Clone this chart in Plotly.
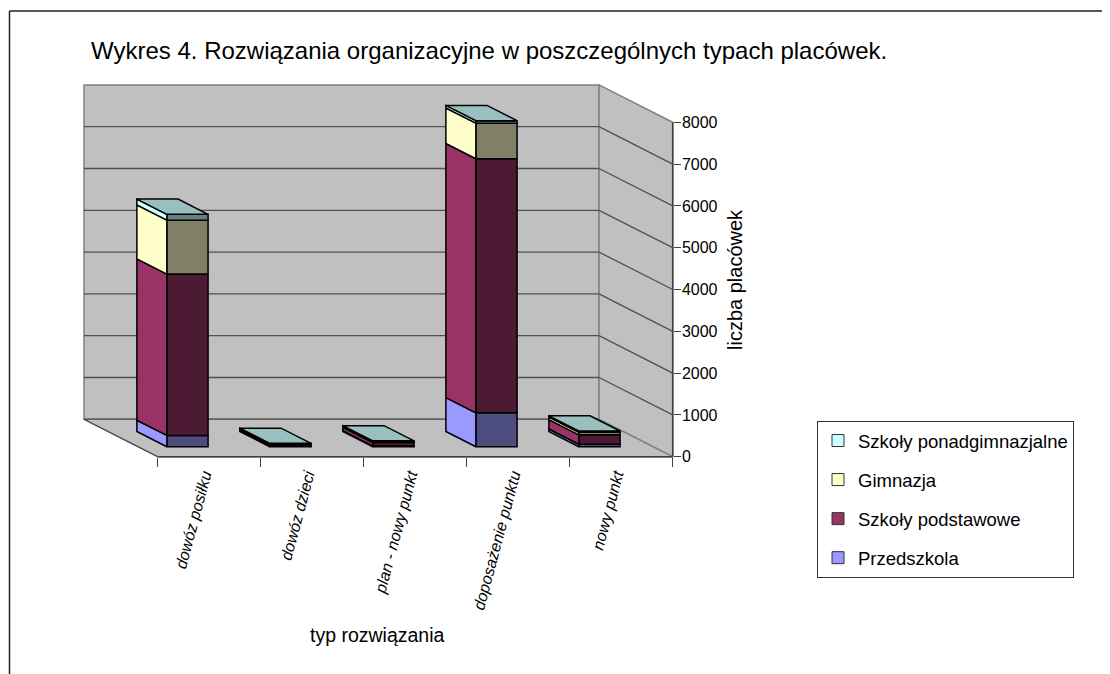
import plotly.graph_objects as go

# dane
categories = ['dowóz posiłku', 'dowóz dzieci', 'plan - nowy punkt', 'doposażenie punktu', 'nowy punkt']
przedszkola = [270, 10, 20, 810, 60]
podstawowe = [3860, 40, 80, 6080, 225]
gimnazja = [1290, 20, 20, 850, 60]
ponadgimn = [140, 10, 20, 60, 30]
y_ticks = [0, 1000, 2000, 3000, 4000, 5000, 6000, 7000, 8000]

series = [
    ('Przedszkola', przedszkola, '#9999FF', '#4D4D80'),
    ('Szkoły podstawowe', podstawowe, '#993366', '#4D1A33'),
    ('Gimnazja', gimnazja, '#FFFFCC', '#808066'),
    ('Szkoły ponadgimnazjalne', ponadgimn, '#CCFFFF', '#668080'),
]
top_color = '#99BFBF'

# strona ma margines 8 px, wiec wykres jest o tyle mniejszy
PAGE = 8
W, H = 1110 - PAGE, 674 - PAGE
# skala osi: piksele na kategorie / na wartosc, poczatek ukladu w pikselach
PX_CAT = 103.0
PX_VAL = 0.0418
X0, Y0 = 157.7 - PAGE, 456.7 - PAGE
# rzut ukosny: przesuniecie tylnej sciany wzgledem przodu
DX = 73.7 / PX_CAT
DY = 37.4 / PX_VAL
BAR_W = 0.4
BAR_SHIFT = 0.48
T_FRONT = 0.267
T_BACK = 0.674
WALL = '#C0C0C0'
EDGE = '#808080'
GRID = '#505050'
BAR_LINE = 1.5


def proj(c, v, t):
    return c - DX * t, v + DY * t


def path(points):
    return 'M ' + ' L '.join(f'{x},{y}' for x, y in points) + ' Z'


def px(x):
    return (x - PAGE) / W


def py(y):
    return 1 - (y - PAGE) / H


n = len(categories)
top_val = y_ticks[-1]
shapes = []

# sciany i podloga
back = [proj(0, 0, 1), proj(n, 0, 1), proj(n, top_val, 1), proj(0, top_val, 1)]
side = [proj(n, 0, 1), proj(n, 0, 0), proj(n, top_val, 0), proj(n, top_val, 1)]
floor = [proj(0, 0, 0), proj(n, 0, 0), proj(n, 0, 1), proj(0, 0, 1)]
for poly in (back, side, floor):
    shapes.append(dict(type='path', path=path(poly), fillcolor=WALL, line=dict(color=EDGE, width=1.5),
                       layer='below', xref='x', yref='y'))


def seg(a, b, color, width):
    shapes.append(dict(type='line', x0=a[0], y0=a[1], x1=b[0], y1=b[1], layer='below',
                       xref='x', yref='y', line=dict(color=color, width=width)))


# siatka na tylnej i bocznej scianie
for v in y_ticks[:-1]:
    if v > 0:
        seg(proj(0, v, 1), proj(n, v, 1), GRID, 1.3)
        seg(proj(n, v, 1), proj(n, v, 0), GRID, 1.3)
seg(proj(0, 0, 1), proj(n, 0, 1), '#606060', 1.5)
seg(proj(0, 0, 1), proj(0, 0, 0), '#404040', 1)
# linie osi
seg(proj(0, 0, 0), proj(n, 0, 0), '#404040', 1.5)
seg(proj(n, 0, 0), proj(n, top_val, 0), '#404040', 1.5)

fig = go.Figure()
bottom = [0] * n
for name, vals, light, dark in series:
    # lewa sciana slupka
    xs, ys = [], []
    for i in range(n):
        c = i + BAR_SHIFT - BAR_W / 2
        pts = [proj(c, bottom[i], T_FRONT), proj(c, bottom[i] + vals[i], T_FRONT),
               proj(c, bottom[i] + vals[i], T_BACK), proj(c, bottom[i], T_BACK), proj(c, bottom[i], T_FRONT)]
        xs += [p[0] for p in pts] + [None]
        ys += [p[1] for p in pts] + [None]
    fig.add_trace(go.Scatter(x=xs, y=ys, mode='lines', fill='toself', fillcolor=light,
                             line=dict(color='black', width=BAR_LINE), showlegend=False, hoverinfo='skip'))
    # przednia sciana slupka
    fig.add_trace(go.Bar(x=[proj(i + BAR_SHIFT, 0, T_FRONT)[0] for i in range(n)], y=vals,
                         base=[b + DY * T_FRONT for b in bottom], width=BAR_W,
                         marker=dict(color=dark, line=dict(color='black', width=BAR_LINE)),
                         showlegend=False, name=name))
    bottom = [b + v for b, v in zip(bottom, vals)]

# gorna sciana slupkow
xs, ys = [], []
for i in range(n):
    cl = i + BAR_SHIFT - BAR_W / 2
    cr = i + BAR_SHIFT + BAR_W / 2
    pts = [proj(cl, bottom[i], T_FRONT), proj(cr, bottom[i], T_FRONT),
           proj(cr, bottom[i], T_BACK), proj(cl, bottom[i], T_BACK), proj(cl, bottom[i], T_FRONT)]
    xs += [p[0] for p in pts] + [None]
    ys += [p[1] for p in pts] + [None]
fig.add_trace(go.Scatter(x=xs, y=ys, mode='lines', fill='toself', fillcolor=top_color,
                         line=dict(color='black', width=BAR_LINE), showlegend=False, hoverinfo='skip'))

# tylko do legendy, od gory jak w oryginale
for name, vals, light, dark in reversed(series):
    fig.add_trace(go.Bar(x=[None], y=[None], name=name, legendgroup=name,
                         marker=dict(color=light, line=dict(color='#333333', width=1))))

font = 'Liberation Sans, Arial, sans-serif'
fig.update_layout(
    width=W, height=H, margin=dict(l=0, r=0, t=0, b=0),
    paper_bgcolor='white', plot_bgcolor='white', barmode='overlay', shapes=shapes,
    font=dict(family=font, color='black', size=16),
    title=dict(text='Wykres 4. Rozwiązania organizacyjne w poszczególnych typach placówek.',
               font=dict(size=24), x=px(91), y=py(51), xanchor='left', yanchor='middle', xref='paper', yref='paper'),
    xaxis=dict(range=[-X0 / PX_CAT, (W - X0) / PX_CAT], anchor='free', position=1 - Y0 / H,
               tickmode='array', tickvals=[i + 0.45 for i in range(n)], ticktext=categories,
               ticks='', tickangle=-75, ticklabelstandoff=5, tickfont=dict(size=16, style='italic'),
               showgrid=False, zeroline=False,
               minor=dict(tickmode='array', tickvals=list(range(n + 1)), ticks='outside', ticklen=9,
                          tickcolor='#404040', tickwidth=1, showgrid=False)),
    yaxis=dict(range=[-(H - Y0) / PX_VAL, Y0 / PX_VAL], anchor='free', position=(X0 + n * PX_CAT) / W, side='right',
               tickmode='array', tickvals=y_ticks, ticks='outside', ticklen=7, tickcolor='#404040',
               ticklabelstandoff=-2, showgrid=False, zeroline=False, tickfont=dict(size=16)),
    legend=dict(x=px(817), y=py(421), xanchor='left', yanchor='top', bgcolor='white',
                bordercolor='#333333', borderwidth=1, traceorder='grouped', tracegroupgap=12,
                font=dict(size=18.5)),
    annotations=[
        dict(text='liczba placówek', x=px(735), y=py(279), xref='paper', yref='paper', textangle=-90,
             showarrow=False, font=dict(size=20)),
        dict(text='typ rozwiązania', x=px(377), y=py(648), xref='paper', yref='paper',
             showarrow=False, font=dict(size=19.5)),
    ],
)
# ramka wykresu
fig.add_shape(type='line', xref='paper', yref='paper', x0=px(9.5), y0=0, x1=px(9.5), y1=py(11),
              line=dict(color='#222222', width=1.5))
fig.add_shape(type='line', xref='paper', yref='paper', x0=px(9.5), y0=py(11), x1=1, y1=py(11),
              line=dict(color='#222222', width=1.5))

fig.write_html("out.html")
